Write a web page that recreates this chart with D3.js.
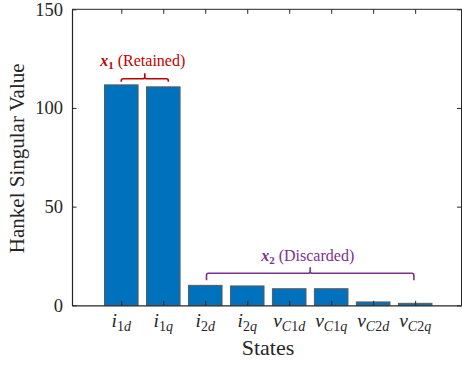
<!DOCTYPE html>
<html>
<head>
<meta charset="utf-8">
<script src="https://cdn.jsdelivr.net/npm/d3@7"></script>
<style>
  html, body { margin: 0; padding: 0; background: #fff; }
  svg { display: block; }
  text { font-family: "Liberation Serif", "Times New Roman", serif; }
</style>
</head>
<body>
<svg id="chart" width="462" height="366"></svg>
<script>
// Hankel singular values of each state
const tickBase = ["i", "i", "i", "i", "v", "v", "v", "v"];
const tickSubItalicPrefix = ["", "", "", "", "C", "C", "C", "C"];
const tickSubNum = ["1", "1", "2", "2", "1", "1", "2", "2"];
const tickSubAxis = ["d", "q", "d", "q", "d", "q", "d", "q"];
const hsv = [111.7, 110.7, 10.1, 9.8, 8.4, 8.4, 1.7, 1.0];
const yTicks = [0, 50, 100, 150];

// State groups: [first position, last position] on the state axis
const retainedSpan = [1, 2.12];
const discardedSpan = [3.03, 7.97];

const svg = d3.select("#chart");
const L = 72, R = 462, T = 9.3, B = 305.3;

const x = d3.scaleLinear().domain([-0.174, 9.116]).range([L, R]);
const y = d3.scaleLinear().domain([0, 150]).range([B, T]);
const pos = hsv.map((_, i) => i + 1);
const barW = 0.8;

const axisColor = "#262626";

// bars
svg.append("g").selectAll("rect").data(hsv).join("rect")
  .attr("x", (d, i) => x(pos[i] - barW / 2))
  .attr("width", x(barW) - x(0))
  .attr("y", d => y(d))
  .attr("height", d => y(0) - y(d))
  .attr("fill", "#0072BD")
  .attr("stroke", "#5a5a5a")
  .attr("stroke-width", 1);

// box: top and right spines
svg.append("line").attr("x1", L).attr("x2", R).attr("y1", T).attr("y2", T)
  .attr("stroke", axisColor).attr("stroke-width", 1);
svg.append("line").attr("x1", R - 0.5).attr("x2", R - 0.5).attr("y1", T).attr("y2", B)
  .attr("stroke", axisColor).attr("stroke-width", 1);

// bottom axis (inward ticks)
const xAxis = d3.axisBottom(x).tickValues(pos).tickSizeInner(-4.5).tickSizeOuter(0).tickFormat("");
const gx = svg.append("g").attr("transform", `translate(0,${B})`).call(xAxis);
gx.select(".domain").attr("stroke", axisColor).attr("stroke-width", 1.2);
gx.selectAll(".tick line").attr("stroke", axisColor);

// top ticks
const xTop = d3.axisTop(x).tickValues(pos).tickSizeInner(-4.5).tickSizeOuter(0).tickFormat("");
const gt = svg.append("g").attr("transform", `translate(0,${T})`).call(xTop);
gt.select(".domain").remove();
gt.selectAll(".tick line").attr("stroke", axisColor);

// left axis
const yAxis = d3.axisLeft(y).tickValues(yTicks).tickSizeInner(-4.5).tickSizeOuter(0).tickPadding(9);
const gy = svg.append("g").attr("transform", `translate(${L},0)`).call(yAxis);
gy.select(".domain").attr("stroke", axisColor).attr("stroke-width", 1.2);
gy.selectAll(".tick line").attr("stroke", axisColor);
gy.selectAll(".tick text").attr("font-family", "Liberation Serif").attr("font-size", 18.5)
  .attr("fill", axisColor);

// right ticks
const yRight = d3.axisRight(y).tickValues(yTicks).tickSizeInner(-4.5).tickSizeOuter(0).tickFormat("");
const gr = svg.append("g").attr("transform", `translate(${R - 0.5},0)`).call(yRight);
gr.select(".domain").remove();
gr.selectAll(".tick line").attr("stroke", axisColor);

// state tick labels with math subscripts
const lab = svg.append("g").attr("fill", axisColor);
pos.forEach((p, i) => {
  const t = lab.append("text")
    .attr("x", x(p)).attr("y", 326.5)
    .attr("text-anchor", "middle")
    .attr("font-size", 19.5);
  t.append("tspan").attr("font-style", "italic").text(tickBase[i]);
  const sub = t.append("tspan").attr("dy", 4).attr("font-size", 14);
  if (tickSubItalicPrefix[i]) {
    sub.append("tspan").attr("font-style", "italic").text(tickSubItalicPrefix[i]);
  }
  sub.append("tspan").text(tickSubNum[i]);
  sub.append("tspan").attr("font-style", "italic").text(tickSubAxis[i]);
});

// axis titles
svg.append("text").attr("x", (L + R) / 2 + 1).attr("y", 354.5)
  .attr("text-anchor", "middle").attr("font-size", 22).attr("fill", axisColor)
  .text("States");
svg.append("text")
  .attr("transform", `translate(24,${(T + B) / 2 + 1}) rotate(-90)`)
  .attr("text-anchor", "middle").attr("font-size", 21).attr("fill", axisColor)
  .text("Hankel Singular Value");

// group brackets
function bracket(span, yLine, drop, rise, color) {
  const x0 = x(span[0]), x1 = x(span[1]), xm = (x0 + x1) / 2, r = 2;
  const p = d3.path();
  p.moveTo(x0, yLine + drop);
  p.lineTo(x0, yLine + r);
  p.quadraticCurveTo(x0, yLine, x0 + r, yLine);
  p.lineTo(xm - r, yLine);
  p.quadraticCurveTo(xm, yLine, xm, yLine - r);
  p.lineTo(xm, yLine - rise);
  p.moveTo(xm, yLine - r);
  p.quadraticCurveTo(xm, yLine, xm + r, yLine);
  p.lineTo(x1 - r, yLine);
  p.quadraticCurveTo(x1, yLine, x1, yLine + r);
  p.lineTo(x1, yLine + drop);
  svg.append("path").attr("d", p.toString())
    .attr("fill", "none").attr("stroke", color).attr("stroke-width", 1.6);
}

function groupLabel(cx, cy, name, subNum, color) {
  const t = svg.append("text").attr("x", cx).attr("y", cy)
    .attr("text-anchor", "middle").attr("font-size", 16).attr("fill", color);
  t.append("tspan").attr("font-style", "italic").attr("font-weight", "bold").text("x");
  t.append("tspan").attr("font-weight", "bold").attr("font-size", 11).attr("dy", 3).text(subNum);
  t.append("tspan").attr("dy", -3).text(" (" + name + ")");
}

const red = "#C00000", purple = "#7E2F8E";
bracket(retainedSpan, 78.8, 3, 5.5, red);
groupLabel(x((retainedSpan[0] + retainedSpan[1]) / 2) - 2, 65.5, "Retained", "1", red);
bracket(discardedSpan, 273.3, 7, 6, purple);
groupLabel(x((discardedSpan[0] + discardedSpan[1]) / 2) - 2.5, 261, "Discarded", "2", purple);
</script>
</body>
</html>
